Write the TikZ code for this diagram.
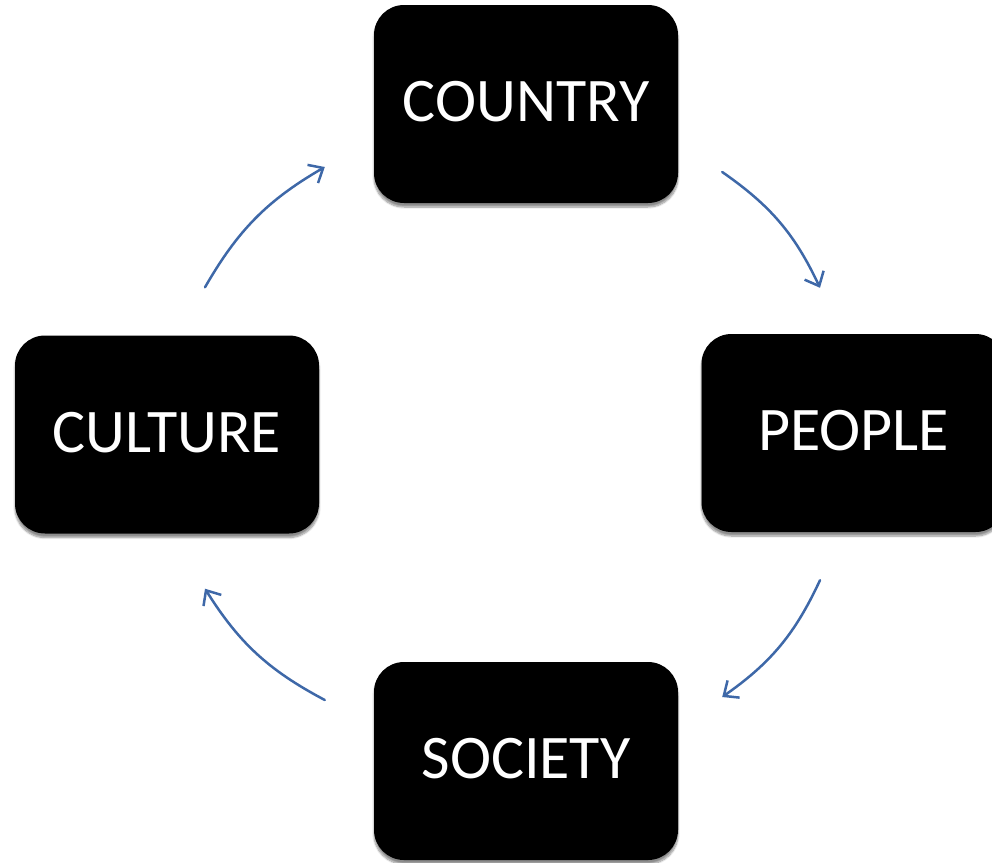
\documentclass[tikz,border=0pt]{standalone}
\usepackage{fontspec}
\setmainfont{Carlito}
\usetikzlibrary{arrows.meta,shadows.blur}
\definecolor{flowblue}{RGB}{62,104,168}
\tikzset{
  x=1pt, y=1pt,
  stage/.style={fill=black, text=white, rounded corners=30pt,
    minimum width=304pt, minimum height=198pt, inner sep=0pt,
    text depth=5pt,
    font=\fontsize{62}{70}\selectfont,
    blur shadow={shadow xshift=0pt, shadow yshift=-4pt, shadow blur steps=8, shadow opacity=45}},
  flow/.style={draw=flowblue, line width=2.5pt, line cap=round,
    -{Straight Barb[length=12pt,width=21pt,line width=2.5pt]}}
}
\begin{document}
\begin{tikzpicture}
\useasboundingbox (0,0) rectangle (992,-862);
\node[stage] (country) at (526,-104) {COUNTRY};
\node[stage] (culture) at (167,-434.5) {CULTURE};
\node[stage] (people)  at (853.5,-433) {PEOPLE};
\node[stage] (society) at (526,-761) {SOCIETY};
% cycle of arrows, clockwise
\draw[flow] ([shift={(38,48)}]culture.north) to[bend left=15] ([shift={(-49,-63)}]country.west);
\draw[flow] ([shift={(44,-68)}]country.east) to[bend left=15] ([shift={(-33.5,46)}]people.north);
\draw[flow] ([shift={(-33.5,-48)}]people.south) to[bend left=15] ([shift={(44,64)}]society.east);
\draw[flow] ([shift={(-49,61)}]society.west) to[bend left=15] ([shift={(38,-55)}]culture.south);
\end{tikzpicture}
\end{document}
